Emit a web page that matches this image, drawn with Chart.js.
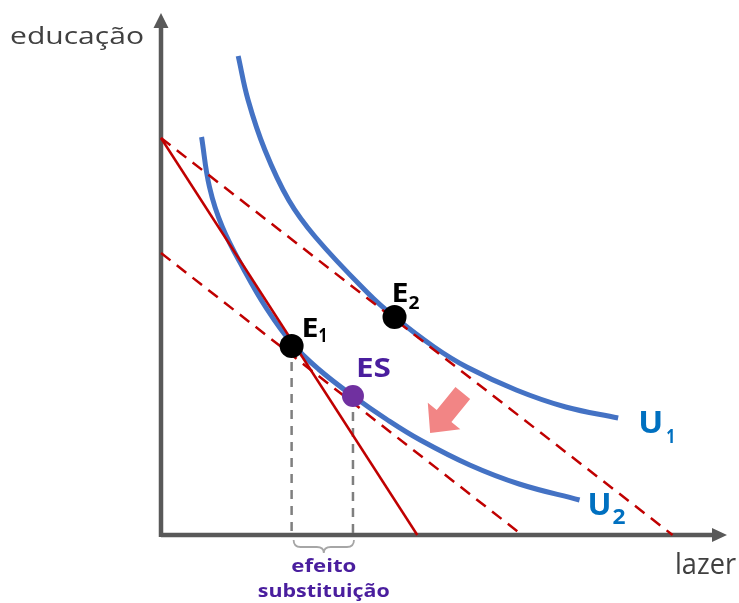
<!DOCTYPE html>
<html>
<head>
<meta charset="utf-8">
<script src="https://cdn.jsdelivr.net/npm/chart.js@4"></script>
<style>
  html, body { margin: 0; padding: 0; background: #fff; }
  #wrap { width: 739px; height: 603px; }
</style>
</head>
<body>
<div id="wrap"><canvas id="chart" width="739" height="603"></canvas></div>
<script>
// curvas de indiferença (lazer, educação)
const u1X = [78, 88, 105, 129, 156, 209, 236, 276, 309, 359, 409, 462];
const u1Y = [479, 435, 385, 335, 298, 242, 218, 188, 168, 145, 128, 117];
const u2X = [41, 49, 62, 84, 107, 132, 159, 194, 229, 262, 312, 362, 423];
const u2Y = [398, 348, 308, 265, 226, 192, 166, 139, 115, 95, 70, 51, 35];

// restrições orçamentárias
const budgetInitX = [0, 259];
const budgetInitY = [397, 0];
const budgetNewX  = [0, 517];
const budgetNewY  = [397, 0];
const budgetCompX = [0, 365];
const budgetCompY = [282, 0];

// pontos de equilíbrio
const pointNames = ['E1', 'E2', 'ES'];
const pointX = [132, 236, 194];
const pointY = [189, 218, 139];

const curveNames = ['U1', 'U2'];
const axisNames  = ['lazer', 'educação'];
const braceText  = ['efeito', 'substituição'];

// seta (de -> para)
const arrowFrom = [305, 142];
const arrowTo   = [272, 102];

const X_MAX = 572, Y_MAX = 522;

const BLUE = '#4472C4', RED = '#C00000', GRAY = '#595959';
const PURPLE_TXT = '#4A1E9E', PURPLE_PT = '#7030A0';

const pts = (xs, ys) => xs.map((x, i) => ({ x, y: ys[i] }));

function txt(ctx, s, x, y, font, color, w, align) {
  ctx.save();
  ctx.font = font;
  ctx.fillStyle = color;
  ctx.textBaseline = 'alphabetic';
  const m = ctx.measureText(s).width;
  const k = w ? w / m : 1;
  const width = w || m;
  const left = align === 'center' ? x - width / 2 : x;
  ctx.translate(left, y);
  ctx.scale(k, 1);
  ctx.fillText(s, 0, 0);
  ctx.restore();
}

const diagram = {
  id: 'diagram',
  beforeDatasetsDraw(chart) {
    const { ctx, scales: { x, y } } = chart;
    const x0 = x.getPixelForValue(0), y0 = y.getPixelForValue(0);
    const xe = x.getPixelForValue(X_MAX), ye = y.getPixelForValue(Y_MAX);
    ctx.save();
    ctx.strokeStyle = GRAY;
    ctx.fillStyle = GRAY;
    ctx.lineWidth = 4.5;
    ctx.beginPath();
    ctx.moveTo(x0, y0);
    ctx.lineTo(xe - 12, y0);
    ctx.moveTo(x0, y0 + 2);
    ctx.lineTo(x0, ye + 12);
    ctx.stroke();
    // pontas
    ctx.beginPath();
    ctx.moveTo(xe, y0);
    ctx.lineTo(xe - 15, y0 - 7);
    ctx.lineTo(xe - 15, y0 + 7);
    ctx.closePath();
    ctx.moveTo(x0, ye);
    ctx.lineTo(x0 - 7.5, ye + 15);
    ctx.lineTo(x0 + 7.5, ye + 15);
    ctx.closePath();
    ctx.fill();
    ctx.restore();
  },
  afterDatasetsDraw(chart) {
    const { ctx, scales: { x, y } } = chart;
    const px = v => x.getPixelForValue(v), py = v => y.getPixelForValue(v);
    const y0 = py(0);

    // chave sob o eixo
    const b1 = px(pointX[0]) + 2, b2 = px(pointX[2]) + 1, bm = (b1 + b2) / 2;
    const bt = y0 + 5, bd = 7;
    ctx.save();
    ctx.strokeStyle = '#A6A6A6';
    ctx.lineWidth = 1.8;
    ctx.beginPath();
    ctx.moveTo(b1, bt);
    ctx.quadraticCurveTo(b1, bt + bd, b1 + 7, bt + bd);
    ctx.lineTo(bm - 7, bt + bd);
    ctx.quadraticCurveTo(bm, bt + bd, bm, bt + bd + 6);
    ctx.quadraticCurveTo(bm, bt + bd, bm + 7, bt + bd);
    ctx.lineTo(b2 - 7, bt + bd);
    ctx.quadraticCurveTo(b2, bt + bd, b2, bt);
    ctx.stroke();
    ctx.restore();

    // seta rosa
    const ax = px(arrowFrom[0]), ay = py(arrowFrom[1]);
    const bx = px(arrowTo[0]), by = py(arrowTo[1]);
    const len = Math.hypot(bx - ax, by - ay);
    const ux = (bx - ax) / len, uy = (by - ay) / len;
    const nx = -uy, ny = ux;
    const sw = 9.5, hw = 21, hl = 22;
    const hx = bx - ux * hl, hy = by - uy * hl;
    ctx.save();
    ctx.fillStyle = '#F28585';
    ctx.beginPath();
    ctx.moveTo(ax + nx * sw, ay + ny * sw);
    ctx.lineTo(hx + nx * sw, hy + ny * sw);
    ctx.lineTo(hx + nx * hw, hy + ny * hw);
    ctx.lineTo(bx, by);
    ctx.lineTo(hx - nx * hw, hy - ny * hw);
    ctx.lineTo(hx - nx * sw, hy - ny * sw);
    ctx.lineTo(ax - nx * sw, ay - ny * sw);
    ctx.closePath();
    ctx.fill();
    ctx.restore();

    const F = 'Open Sans, sans-serif';

    // eixos
    txt(ctx, axisNames[1], 10, 43.5, `23px ${F}`, '#404040', 134);
    txt(ctx, axisNames[0], 675, 574, `30px ${F}`, '#404040', 61);

    // rótulos dos pontos
    const e1x = px(pointX[0]), e1y = py(pointY[0]);
    txt(ctx, pointNames[0][0], e1x + 10, e1y - 9, `bold 27px ${F}`, '#000', 17);
    txt(ctx, pointNames[0][1], e1x + 27, e1y - 4, `bold 19px ${F}`, '#000', 9);
    const e2x = px(pointX[1]), e2y = py(pointY[1]);
    txt(ctx, pointNames[1][0], e2x - 3, e2y - 15, `bold 26px ${F}`, '#000', 17);
    txt(ctx, pointNames[1][1], e2x + 14, e2y - 8, `bold 17px ${F}`, '#000', 11);
    const esx = px(pointX[2]), esy = py(pointY[2]);
    txt(ctx, pointNames[2], esx + 3, esy - 19, `bold 26px ${F}`, PURPLE_TXT, 35);

    // rótulos das curvas
    const u1ex = px(u1X[u1X.length - 1]), u1ey = py(u1Y[u1Y.length - 1]);
    txt(ctx, curveNames[0][0], u1ex + 20, u1ey + 15, `bold 30px ${F}`, '#0070C0', 25);
    txt(ctx, curveNames[0][1], u1ex + 48, u1ey + 25, `bold 20px ${F}`, '#0070C0', 9);
    const u2ex = px(u2X[u2X.length - 1]), u2ey = py(u2Y[u2Y.length - 1]);
    txt(ctx, curveNames[1][0], u2ex + 8, u2ey + 15, `bold 30px ${F}`, '#0070C0', 24);
    txt(ctx, curveNames[1][1], u2ex + 33, u2ey + 24, `bold 21px ${F}`, '#0070C0', 13);

    // efeito substituição
    txt(ctx, braceText[0], bm, 572, `bold 17px ${F}`, PURPLE_TXT, 65, 'center');
    txt(ctx, braceText[1], bm, 597, `bold 17px ${F}`, PURPLE_TXT, 132, 'center');
  }
};

const lineDs = (xs, ys, extra) => Object.assign({
  data: pts(xs, ys),
  showLine: true,
  pointRadius: 0,
  pointHoverRadius: 0,
  fill: false,
  clip: false
}, extra);

new Chart(document.getElementById('chart'), {
  type: 'scatter',
  data: {
    datasets: [
      {
        data: pts(pointX, pointY),
        showLine: false,
        pointRadius: [12, 12, 11],
        pointBackgroundColor: ['#000', '#000', PURPLE_PT],
        pointBorderWidth: 0,
        clip: false,
        order: 0
      },
      lineDs(budgetInitX, budgetInitY, { borderColor: RED, borderWidth: 2.5, order: 1 }),
      lineDs(budgetNewX, budgetNewY, { borderColor: RED, borderWidth: 2.5, borderDash: [12, 8], order: 1 }),
      lineDs(budgetCompX, budgetCompY, { borderColor: RED, borderWidth: 2.5, borderDash: [12, 8], order: 1 }),
      lineDs(u1X, u1Y, { borderColor: BLUE, borderWidth: 5, tension: 0.4, order: 2 }),
      lineDs(u2X, u2Y, { borderColor: BLUE, borderWidth: 5, tension: 0.4, order: 2 }),
      lineDs([pointX[0], pointX[0]], [pointY[0], 0], { borderColor: '#7F7F7F', borderWidth: 2.5, borderDash: [9, 7], order: 3 }),
      lineDs([pointX[2], pointX[2]], [pointY[2], 0], { borderColor: '#7F7F7F', borderWidth: 2.5, borderDash: [9, 7], order: 3 })
    ]
  },
  options: {
    responsive: false,
    animation: false,
    events: [],
    layout: { padding: { left: 161, right: 6, top: 13, bottom: 68 } },
    plugins: { legend: { display: false }, tooltip: { enabled: false } },
    scales: {
      x: { type: 'linear', min: 0, max: X_MAX, display: false },
      y: { type: 'linear', min: 0, max: Y_MAX, display: false }
    }
  },
  plugins: [diagram]
});
</script>
</body>
</html>
